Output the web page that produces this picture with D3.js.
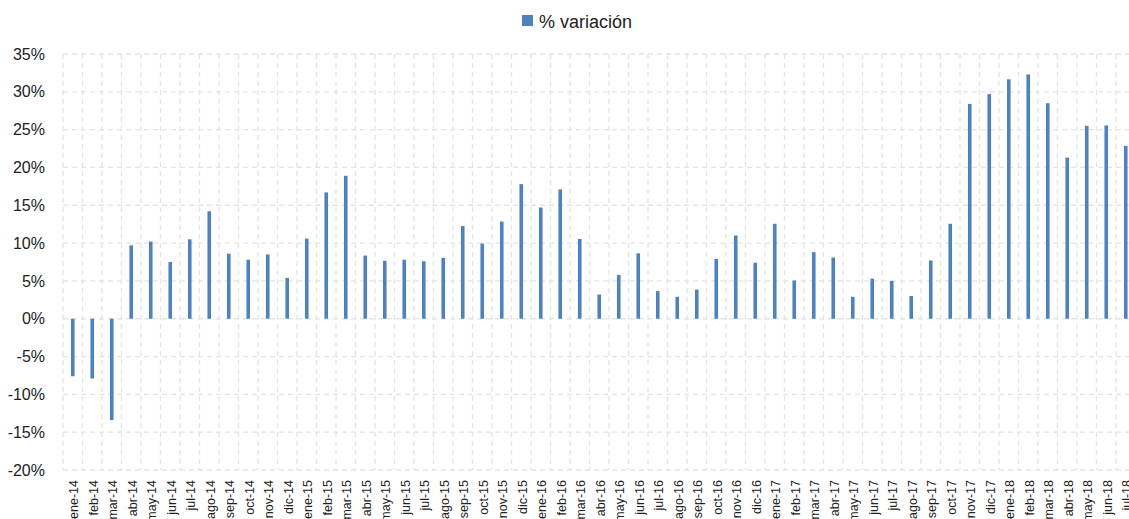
<!DOCTYPE html>
<html>
<head>
<meta charset="utf-8">
<script src="https://cdn.jsdelivr.net/npm/d3@7"></script>
<style>
  html, body { margin: 0; padding: 0; background: #fff; overflow: hidden; }
  svg { display: block; font-family: "Liberation Sans", Arial, sans-serif; }
</style>
</head>
<body>
<svg id="chart" width="1129" height="519"></svg>
<script>
const months = ["ene","feb","mar","abr","may","jun","jul","ago","sep","oct","nov","dic"];
const years = ["14","15","16","17","18"];
const categories = [];
years.forEach(y => months.forEach(m => categories.push(m + "-" + y)));
categories.splice(55); // ene-14 .. jul-18

const values = [
  -7.6, -7.9, -13.4, 9.7, 10.2, 7.5, 10.5, 14.2, 8.6, 7.8, 8.5, 5.4,
  10.6, 16.7, 18.9, 8.35, 7.65, 7.8, 7.6, 8.05, 12.25, 9.95, 12.85, 17.8,
  14.7, 17.1, 10.55, 3.2, 5.8, 8.65, 3.65, 2.9, 3.85, 7.9, 11.0, 7.4,
  12.55, 5.05, 8.8, 8.1, 2.9, 5.3, 5.0, 3.0, 7.7, 12.55, 28.4, 29.7,
  31.65, 32.3, 28.5, 21.3, 25.5, 25.55, 22.85
];

const yTicks = [-20, -15, -10, -5, 0, 5, 10, 15, 20, 25, 30, 35];
const seriesName = "% variación";

const svg = d3.select("#chart");
const plotLeft = 63, plotTop = 54, plotBottom = 470;
const step = 19.5;
const plotRight = plotLeft + step * categories.length;

const x = d3.scaleBand().domain(categories).range([plotLeft, plotRight]).paddingInner(0).paddingOuter(0);
const y = d3.scaleLinear().domain([-20, 35]).range([plotBottom, plotTop]);

const grid = svg.append("g");
grid.selectAll("line.h").data(yTicks).join("line")
  .attr("x1", plotLeft).attr("x2", plotRight)
  .attr("y1", d => y(d)).attr("y2", d => y(d))
  .attr("stroke", "#e4e4e4").attr("stroke-width", 1.3).attr("stroke-dasharray", "5,4");
const bounds = categories.map(c => x(c)).concat([plotRight]);
grid.selectAll("line.v").data(bounds).join("line")
  .attr("x1", d => d).attr("x2", d => d)
  .attr("y1", plotTop).attr("y2", plotBottom)
  .attr("stroke", "#e4e4e4").attr("stroke-width", 1.3).attr("stroke-dasharray", "5,4");

const bw = 3.6;
svg.append("g").selectAll("rect").data(values).join("rect")
  .attr("x", (d, i) => x(categories[i]) + x.bandwidth() / 2 - bw / 2)
  .attr("width", bw)
  .attr("y", d => y(Math.max(0, d)))
  .attr("height", d => Math.abs(y(d) - y(0)))
  .attr("fill", "#4f81bd");

const yAxis = d3.axisLeft(y).tickValues(yTicks).tickFormat(d => d + "%").tickSize(0).tickPadding(0);
const ya = svg.append("g").attr("transform", `translate(45,0)`).call(yAxis);
ya.select(".domain").remove();
ya.selectAll("text").attr("font-size", 16).attr("fill", "#222")
  .attr("font-family", "'Liberation Sans', Arial, sans-serif");

const xAxis = d3.axisBottom(x).tickSize(0).tickPadding(0);
const xa = svg.append("g").attr("transform", `translate(0,${plotBottom})`).call(xAxis);
xa.select(".domain").remove();
xa.selectAll("text")
  .attr("font-size", 12.5).attr("fill", "#222")
  .attr("font-family", "'Liberation Sans', Arial, sans-serif")
  .attr("text-anchor", "end")
  .attr("transform", "rotate(-90)")
  .attr("x", -10).attr("y", 1).attr("dy", "0.35em").attr("dx", 0);

const lg = svg.append("g");
lg.append("rect").attr("x", 522).attr("y", 15).attr("width", 11).attr("height", 11).attr("fill", "#4f81bd");
lg.append("text").attr("x", 539).attr("y", 28).attr("font-size", 18).attr("fill", "#222").text(seriesName);
</script>
</body>
</html>
